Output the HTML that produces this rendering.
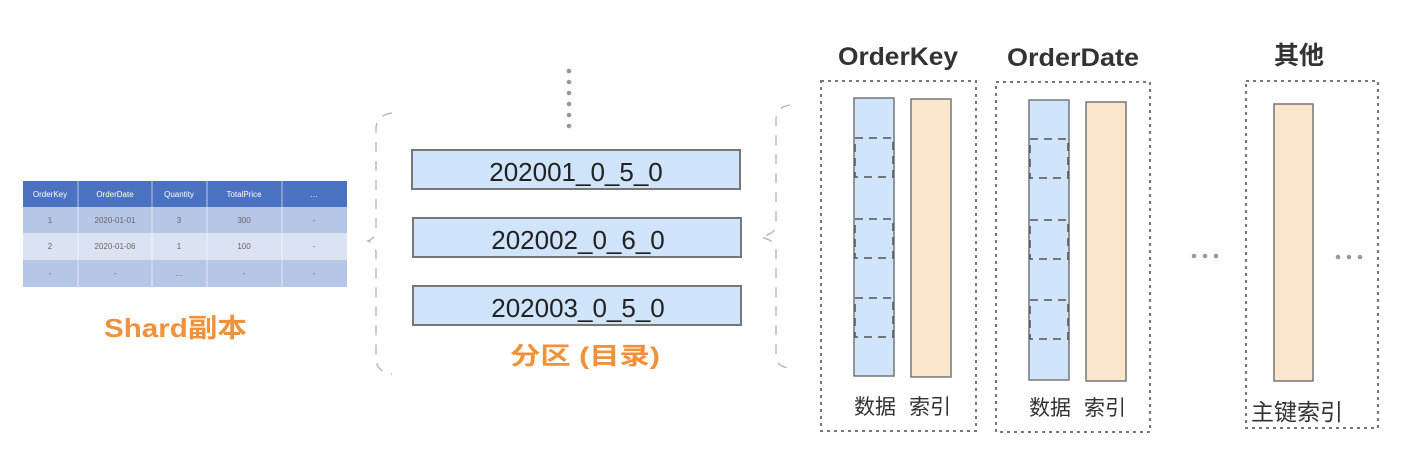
<!DOCTYPE html><html><head><meta charset="utf-8"><style>body{margin:0;background:#fff}svg{display:block}</style></head><body>
<svg width="1416" height="464" xmlns="http://www.w3.org/2000/svg" font-family="Liberation Sans, Noto Sans CJK SC, sans-serif">
<!-- table -->
<rect x="23" y="181" width="324" height="26" fill="#4a72c0"/>
<rect x="23" y="207" width="324" height="26" fill="#b6c6e6"/>
<rect x="23" y="233" width="324" height="27" fill="#dbe2f2"/>
<rect x="23" y="260" width="324" height="27" fill="#b6c6e6"/>
<g stroke="#fff" stroke-width="1" opacity="0.6"><line x1="78" y1="181" x2="78" y2="287"/><line x1="152" y1="181" x2="152" y2="287"/><line x1="207" y1="181" x2="207" y2="287"/><line x1="282" y1="181" x2="282" y2="287"/></g>
<g font-size="8" text-anchor="middle" fill="#fff"><text x="50" y="197">OrderKey</text><text x="115" y="197">OrderDate</text><text x="179" y="197">Quantity</text><text x="244" y="197">TotalPrice</text><text x="314" y="197">…</text></g>
<g font-size="8" text-anchor="middle" fill="#666"><text x="50" y="223">1</text><text x="115" y="223">2020-01-01</text><text x="179" y="223">3</text><text x="244" y="223">300</text><text x="314" y="223">-</text>
<text x="50" y="249">2</text><text x="115" y="249">2020-01-06</text><text x="179" y="249">1</text><text x="244" y="249">100</text><text x="314" y="249">-</text>
<text x="50" y="276">-</text><text x="115" y="276">-</text><text x="179" y="276">…</text><text x="244" y="276">-</text><text x="314" y="276">-</text></g>
<text x="104" y="337" font-size="26" font-weight="bold" fill="#f0923a" textLength="143" lengthAdjust="spacingAndGlyphs">Shard副本</text>
<!-- braces -->
<g fill="none" stroke="#bbb" stroke-width="1.5" stroke-dasharray="10,9">
<path d="M392 113 Q377 115 376 128 L376 228 Q376 238 368 241 Q376 244 376 254 L376 360 Q377 372 392 374"/>
<path d="M790 105 Q776 107 776 120 L776 225 Q776 234 760 237 Q776 240 776 250 L776 355 Q776 367 790 368"/>
</g>
<!-- dots -->
<g fill="#999"><circle cx="569" cy="71" r="2.3"/><circle cx="569" cy="82" r="2.3"/><circle cx="569" cy="93" r="2.3"/><circle cx="569" cy="104" r="2.3"/><circle cx="569" cy="115" r="2.3"/><circle cx="569" cy="126" r="2.3"/>
<circle cx="1194" cy="256" r="2.3"/><circle cx="1205" cy="256" r="2.3"/><circle cx="1216" cy="256" r="2.3"/>
<circle cx="1338" cy="257" r="2.3"/><circle cx="1349" cy="257" r="2.3"/><circle cx="1360" cy="257" r="2.3"/></g>
<!-- partitions -->
<g fill="#d0e4fb" stroke="#777" stroke-width="2"><rect x="412" y="150" width="328" height="39"/><rect x="413" y="218" width="328" height="39"/><rect x="413" y="286" width="328" height="39"/></g>
<g font-size="26" fill="#222" text-anchor="middle"><text x="576" y="181">202001_0_5_0</text><text x="578" y="249">202002_0_6_0</text><text x="578" y="317">202003_0_5_0</text></g>
<text x="510" y="364" font-size="24" font-weight="bold" fill="#f0923a" textLength="150" lengthAdjust="spacingAndGlyphs">分区 (目录)</text>
<!-- column boxes -->
<g fill="none" stroke="#777" stroke-width="2" stroke-dasharray="3,4"><rect x="821" y="81" width="155" height="350"/><rect x="996" y="82" width="154" height="350"/><rect x="1246" y="81" width="132" height="347"/></g>
<g font-size="25" fill="#333" text-anchor="middle" font-weight="bold"><text x="898" y="65" textLength="120" lengthAdjust="spacingAndGlyphs">OrderKey</text><text x="1073" y="66" textLength="132" lengthAdjust="spacingAndGlyphs">OrderDate</text><text x="1299" y="64">其他</text></g>
<g stroke="#777" stroke-width="1.5"><rect x="854" y="98" width="40" height="278" fill="#d0e4fb"/><rect x="911" y="99" width="40" height="278" fill="#fce6cc"/>
<rect x="1029" y="100" width="40" height="280" fill="#d0e4fb"/><rect x="1086" y="102" width="40" height="279" fill="#fce6cc"/>
<rect x="1274" y="104" width="39" height="277" fill="#fce6cc"/></g>
<g fill="none" stroke="#555" stroke-width="1.5" stroke-dasharray="8,6">
<rect x="855" y="138" width="38" height="39"/><rect x="855" y="219" width="38" height="39"/><rect x="855" y="298" width="38" height="39"/>
<rect x="1030" y="139" width="38" height="39"/><rect x="1030" y="220" width="38" height="39"/><rect x="1030" y="300" width="38" height="39"/></g>
<g font-size="21" fill="#333"><text x="854" y="414">数据</text><text x="909" y="414">索引</text><text x="1029" y="415">数据</text><text x="1084" y="415">索引</text><text x="1251" y="420" font-size="23">主键索引</text></g>
</svg></body></html>
